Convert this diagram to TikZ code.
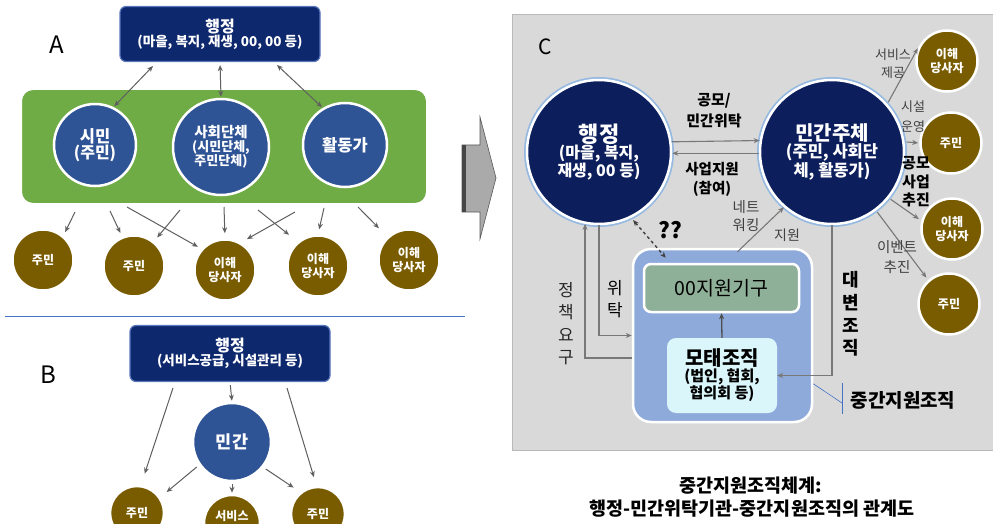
\documentclass[tikz,border=0pt]{standalone}
\usepackage{fontspec}
\setmainfont{Noto Sans CJK KR}
\usetikzlibrary{arrows.meta,calc}
\definecolor{navyA}{RGB}{14,40,110}
\definecolor{navyEdge}{RGB}{90,120,190}
\definecolor{blueA}{RGB}{47,84,150}
\definecolor{greenA}{RGB}{112,172,70}
\definecolor{brownA}{RGB}{122,92,0}
\definecolor{navyC}{RGB}{12,30,92}
\definecolor{glowC}{RGB}{150,185,225}
\definecolor{panelC}{RGB}{217,217,217}
\definecolor{midC}{RGB}{142,170,219}
\definecolor{sageC}{RGB}{143,176,152}
\definecolor{paleC}{RGB}{218,246,251}
\definecolor{lineA}{RGB}{95,95,95}
\definecolor{lineC}{RGB}{120,120,120}
\definecolor{sepBlue}{RGB}{68,114,196}
\definecolor{chevC}{RGB}{170,170,170}
\newcommand\fsz[2]{\fontsize{#1}{#2}\selectfont}
\tikzset{
  navybox/.style={rectangle, rounded corners=6pt, fill=navyA, draw=navyEdge, line width=1.2pt, text=white, font=\bfseries, align=center, inner sep=2pt},
  greenbox/.style={rectangle, rounded corners=12pt, fill=greenA, draw=white, line width=2pt},
  bluec/.style={circle, fill=blueA, draw=white, line width=2.5pt, text=white, font=\bfseries, align=center, inner sep=0pt},
  brownc/.style={circle, fill=brownA, draw=white, line width=2.5pt, text=white, font=\bfseries\fsz{12}{14}, align=center, inner sep=0pt, minimum size=61pt},
  navyc/.style={circle, fill=navyC, draw=white, line width=2.5pt, preaction={draw=glowC, line width=6pt}, text=white, font=\bfseries, align=center, inner sep=0pt, minimum size=144pt},
  arrowA/.style={draw=lineA, line width=1pt, -{Stealth[length=6pt,width=5pt]}},
  darrowA/.style={draw=lineA, line width=1pt, {Stealth[length=6pt,width=5pt]}-{Stealth[length=6pt,width=5pt]}},
  arrowC/.style={draw=lineC, line width=1.1pt, -{Stealth[length=6pt,width=5pt]}},
  plain/.style={inner sep=0pt, align=center},
}
\begin{document}
\begin{tikzpicture}[x=1pt,y=-1pt]
\useasboundingbox (0,0) rectangle (993,524);
\clip (0,0) rectangle (993,524);
\fill[white] (0,0) rectangle (993,524);

%% ---------------- Panel A
\node[plain, font=\fsz{24}{28}] (labA) at (57,45) {A};
\node[navybox, minimum width=200pt, minimum height=55pt] (admA) at (220,34)
  {\fsz{16}{18}행정\\\fsz{13.5}{22}(마을, 복지, 재생, 00, 00 등)};
\node[greenbox, minimum width=406pt, minimum height=115pt] (grn) at (224,146.5) {};
\node[bluec, minimum size=82pt] (cit) at (95,145) {\fsz{16.5}{19}시민\\\fsz{16}{22}(주민)};
\node[bluec, minimum size=96pt] (soc) at (221,147) {\fsz{14.5}{17}사회단체\\\fsz{13}{18}(시민단체,\\\fsz{13}{17}주민단체)};
\node[bluec, minimum size=84pt] (act) at (345,145) {\fsz{16.5}{19}활동가};

\node[brownc] (a1) at (43,260) {주민};
\node[brownc] (a2) at (134,266) {주민};
\node[brownc] (a3) at (225,270) {이해\\당사자};
\node[brownc] (a4) at (318,266) {이해\\당사자};
\node[brownc] (a5) at (409,260) {이해\\당사자};

\coordinate (t1) at (153,66);
\coordinate (t3) at (277,65);
\draw[darrowA, shorten >=1pt] (t1) -- (cit.64);
\draw[darrowA, shorten <=3pt, shorten >=1pt] (admA.south) -- (soc.north);
\draw[darrowA, shorten >=1pt] (t3) -- (act.121);

\coordinate (s1) at (75,212);
\coordinate (s2) at (110,211);
\coordinate (s3) at (127,207);
\coordinate (s4) at (180,210);
\coordinate (s5) at (224,207);
\coordinate (s6) at (258,210);
\coordinate (s7) at (295,212);
\coordinate (s8) at (324,208);
\coordinate (s9) at (358,207);
\draw[arrowA, shorten >=4pt] (s1) -- (a1.50);
\draw[arrowA, shorten >=4pt] (s2) -- (a2.112);
\draw[arrowA, shorten >=4pt] (s3) -- (a3.138);
\draw[arrowA, shorten >=5pt] (s4) -- (a2.51);
\draw[arrowA, shorten >=5pt] (s5) -- (a3.90);
\draw[arrowA, shorten >=11pt] (s6) -- (a4.130);
\draw[arrowA, shorten >=7pt] (s7) -- (a3.60);
\draw[arrowA, shorten >=5pt] (s8) -- (a4.90);
\draw[arrowA, shorten >=12pt] (s9) -- (a5.133);

%% separator
\draw[sepBlue, line width=1pt] (5,316) -- (465,316);

%% ---------------- Panel B
\node[plain, font=\fsz{24}{28}] (labB) at (48,375) {B};
\node[navybox, minimum width=200pt, minimum height=56pt] (admB) at (230,353.5)
  {\fsz{16}{18}행정\\\fsz{13.5}{24}(서비스공급, 시설관리 등)};
\node[bluec, minimum size=78pt] (minB) at (232,442) {\fsz{17.5}{20}민간};
\node[brownc, minimum size=54pt] (b1) at (137,513) {주민};
\node[brownc, minimum size=56pt] (b2) at (232,523) {서비스\\\phantom{공급}};
\node[brownc, minimum size=54pt] (b3) at (318,514) {주민};

\coordinate (u1) at (173,388);
\coordinate (u3) at (287,388);
\draw[arrowA, shorten >=12pt] (u1) -- (b1.82);
\draw[arrowA, shorten <=3pt, shorten >=1pt] (admB.south) -- (minB.north);
\draw[arrowA, shorten >=9pt] (u3) -- (b3.93);
\draw[arrowA, shorten <=3pt, shorten >=8pt] (minB.215) -- (b1.34);
\draw[arrowA, shorten <=2pt, shorten >=1pt] (minB.south) -- (b2.north);
\draw[arrowA, shorten <=3pt, shorten >=8pt] (minB.-39) -- (b3.129);

%% chevron
\filldraw[fill=chevC, draw=gray!70!black, line width=0.6pt]
  (462,145) -- (480,145) -- (480,117) -- (496,178) -- (480,239) -- (480,212) -- (462,212) -- cycle;
\fill[gray!55!black] (462,145) rectangle (466,212);

%% ---------------- Panel C
\filldraw[fill=panelC, draw=gray!55, line width=0.8pt] (512,14) rectangle (996,450);
\node[plain, font=\fsz{21}{24}] (labC) at (545,47) {C};

\node[navyc] (admC) at (599,152) {\fsz{22}{26}행정\\\fsz{16}{22}(마을, 복지,\\\fsz{16}{18}재생, 00 등)};
\node[navyc] (priv) at (832,152) {\fsz{20}{24}민간주체\\\fsz{16.5}{22}(주민, 사회단\\\fsz{16.5}{20}체, 활동가)};

\node[brownc] (r1) at (947,61) {이해\\당사자};
\node[brownc] (r2) at (951,143) {주민};
\node[brownc] (r3) at (952,229) {이해\\당사자};
\node[brownc] (r4) at (949,304) {주민};

\node[rectangle, rounded corners=18pt, fill=midC, draw=white, line width=2.5pt, minimum width=179pt, minimum height=173pt] (mid) at (722.5,335.5) {};
\node[rectangle, rounded corners=7pt, fill=sageC, draw=white, line width=2.5pt, minimum width=155pt, minimum height=48pt, font=\fsz{19.5}{22}] (sup) at (721.5,288) {00지원기구};
\node[rectangle, rounded corners=9pt, fill=paleC, minimum width=110pt, minimum height=75pt, align=center, inner sep=0pt, font=\bfseries] (mother) at (722,375.5)
  {\fsz{20}{22}모태조직\\\fsz{15}{21}(법인, 협회,\\\fsz{15}{20}협의회 등)};

%% C connectors
\draw[arrowC] (admC.8.5) -- (priv.171.5);
\draw[arrowC] (priv.181) -- (admC.-1);
\draw[arrowC, shorten <=2pt, shorten >=3pt] (priv.41) -- (r1.151);
\draw[arrowC, shorten <=2pt, shorten >=1pt] (priv.8) -- (r2.west);
\draw[arrowC, shorten <=2pt, shorten >=3pt] (priv.-39) -- (r3.165);
\draw[arrowC, shorten <=2pt, shorten >=3pt] (priv.-53) -- (r4.131);
\draw[draw=black!75, line width=1.4pt, dashed, {Stealth[length=6pt,width=5pt]}-{Stealth[length=6pt,width=5pt]}, shorten <=3pt]
  (admC.-64) -- ($(sup.north west)+(23,-5)$);
\draw[arrowC] ($(mid.north)+(15,4)$) -- (priv.229);
\draw[arrowC] (admC.south) |- (mid.west);
\draw[arrowC] ($(mid.west)+(0,22.5)$) -| (admC.259);
\draw[arrowC] (priv.south) |- (mother.east);
\draw[draw=black!70, line width=1.3pt, -{Stealth[length=6pt,width=5pt]}] (mother.north) -- (sup.south);

%% C labels
\node[plain, font=\bfseries\fsz{15}{21}] (lbl1) at (714,111) {공모/\\민간위탁};
\node[plain, font=\bfseries\fsz{14.5}{19}] (lbl2) at (712,179) {사업지원\\(참여)};
\node[plain, font=\fsz{14.5}{18}, text=black!75] (lbl3) at (746,216) {네트\\워킹};
\node[plain, font=\fsz{14}{16}, text=black!75] (lbl4) at (787,235) {지원};
\node[plain, font=\bfseries\fsz{22}{24}] (lbl5) at (670,230) {??};
\node[plain, font=\fsz{13}{18}, text=black!75] (lbl6) at (893,64) {서비스\\제공};
\node[plain, font=\fsz{13}{20}, text=black!75] (lbl7) at (913,117) {시설\\운영};
\node[plain, font=\bfseries\fsz{15}{18.5}] (lbl8) at (916,182) {공모\\사업\\추진};
\node[plain, font=\fsz{14.5}{20}, text=black!75] (lbl9) at (897,257) {이벤트\\추진};
\node[plain, font=\fsz{17}{22.5}, text=black!85] (lbl10) at (566,323.5) {정\\책\\요\\구};
\node[plain, font=\fsz{17}{22}] (lbl11) at (615,299) {위\\탁};
\node[plain, font=\bfseries\fsz{18}{22.7}] (lbl12) at (851,314) {대\\변\\조\\직};
\node[plain, font=\bfseries\fsz{19}{22}] (lbl13) at (903,400) {중간지원조직};
\coordinate (cb1) at (842,383);
\coordinate (cb2) at (842,414);
\coordinate (cbm) at (842,403);
\draw[sepBlue, line width=1pt] (cb1) -- (cb2);
\draw[sepBlue, line width=0.6pt] (mid.-28) -- (cbm);

%% caption
\node[plain, font=\bfseries\fsz{18.5}{22}] (cap1) at (751,486) {중간지원조직체계:};
\node[plain, font=\bfseries\fsz{18.5}{22}] (cap2) at (752,509) {행정-민간위탁기관-중간지원조직의 관계도};
\end{tikzpicture}
\end{document}
